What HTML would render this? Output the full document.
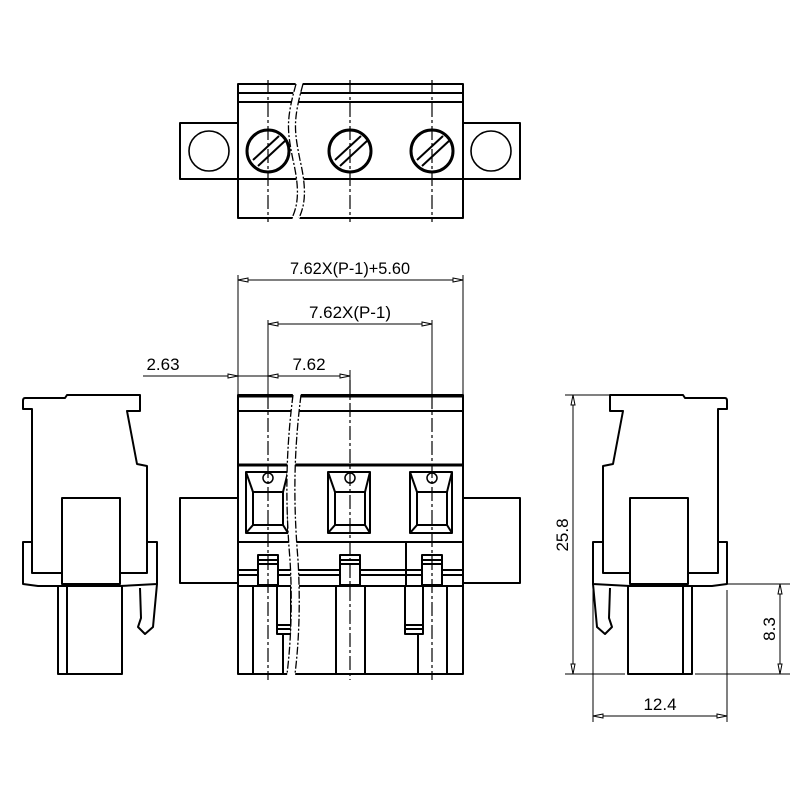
<!DOCTYPE html>
<html><head><meta charset="utf-8"><style>html,body{margin:0;padding:0;background:#fff}svg{display:block}</style></head>
<body>
<svg width="800" height="800" viewBox="0 0 800 800" xmlns="http://www.w3.org/2000/svg" font-family="Liberation Sans, sans-serif">
<g fill="none" stroke="#000" stroke-width="2" stroke-linejoin="round">
<!-- TOP VIEW -->
<rect x="180" y="123" width="58" height="56"/>
<rect x="463" y="123" width="57" height="56"/>
<circle cx="209" cy="151" r="20" stroke-width="1.6"/>
<circle cx="491" cy="151" r="20" stroke-width="1.6"/>
<rect x="238" y="84" width="225" height="134"/>
<line x1="238" y1="93" x2="463" y2="93"/>
<line x1="238" y1="102" x2="463" y2="102"/>
<line x1="238" y1="179" x2="463" y2="179"/>
<g stroke-width="3">
<circle cx="268" cy="151" r="21"/><circle cx="350" cy="151" r="21"/><circle cx="432" cy="151" r="21"/>
</g>
<g stroke-width="2">
<line x1="253" y1="160" x2="279" y2="136"/><line x1="258" y1="166" x2="286" y2="140"/>
<line x1="335" y1="160" x2="361" y2="136"/><line x1="340" y1="166" x2="368" y2="140"/>
<line x1="417" y1="160" x2="443" y2="136"/><line x1="422" y1="166" x2="450" y2="140"/>
</g>
<path d="M296,82 C286,120 287,130 293,160 C300,190 298,205 292,220 L299,220 C305,205 307,190 300,160 C294,130 293,120 303,82 Z" fill="#fff" stroke="none"/>
<g stroke-width="1.3" stroke-dasharray="8,2,2,2">
<path d="M296,84 C286,120 287,130 293,160 C300,190 298,205 292,218"/>
<path d="M303,84 C293,120 294,130 300,160 C307,190 305,205 299,218"/>
</g>
<g stroke-width="1.2" stroke-dasharray="14,3,3,3">
<line x1="268" y1="80" x2="268" y2="222"/><line x1="350" y1="80" x2="350" y2="222"/><line x1="432" y1="80" x2="432" y2="222"/>
</g>

<!-- FRONT VIEW -->
<rect x="180" y="498" width="58" height="85"/>
<rect x="463" y="498" width="57" height="85"/>
<rect x="238" y="395" width="225" height="279"/>
<line x1="238" y1="396" x2="463" y2="396" stroke-width="3"/>
<line x1="238" y1="411" x2="463" y2="411"/>
<line x1="238" y1="465" x2="463" y2="465" stroke-width="3"/>
<line x1="238" y1="542" x2="463" y2="542"/>
<line x1="238" y1="570" x2="463" y2="570"/>
<line x1="238" y1="575" x2="463" y2="575"/>
<line x1="238" y1="586" x2="463" y2="586"/>
<line x1="406" y1="542" x2="406" y2="586"/>
<g id="win">
<rect x="246" y="472" width="42" height="61"/>
<rect x="253" y="492" width="30" height="33"/>
<line x1="246" y1="472" x2="253" y2="492"/><line x1="288" y1="472" x2="283" y2="492"/>
<line x1="246" y1="533" x2="253" y2="525"/><line x1="288" y1="533" x2="283" y2="525"/>
<circle cx="268" cy="478" r="5" stroke-width="1.5"/>
<rect x="258" y="555" width="20" height="30" fill="#fff"/>
<line x1="258" y1="560" x2="278" y2="560"/><line x1="258" y1="564" x2="278" y2="564"/>
</g>
<use href="#win" x="82"/><use href="#win" x="164"/>
<line x1="253" y1="586" x2="253" y2="674"/>
<line x1="447" y1="586" x2="447" y2="674"/>
<line x1="336" y1="586" x2="336" y2="674"/>
<line x1="365" y1="586" x2="365" y2="674"/>
<rect x="277" y="586" width="14" height="48"/>
<line x1="277" y1="625" x2="291" y2="625"/><line x1="277" y1="629" x2="291" y2="629"/>
<line x1="283" y1="634" x2="283" y2="674"/>
<rect x="405" y="586" width="18" height="48"/>
<line x1="405" y1="625" x2="423" y2="625"/><line x1="405" y1="629" x2="423" y2="629"/>
<line x1="418" y1="634" x2="418" y2="674"/>
<path d="M293,393 C286,450 285,500 290,560 C293,610 290,650 287,676 L295,676 C298,650 301,610 298,560 C293,500 294,450 301,393 Z" fill="#fff" stroke="none"/>
<g stroke-width="1.3" stroke-dasharray="8,2,2,2">
<path d="M293,395 C286,450 285,500 290,560 C293,610 290,650 287,674"/>
<path d="M301,395 C294,450 293,500 298,560 C301,610 298,650 295,674"/>
</g>
<g stroke-width="1.2" stroke-dasharray="14,3,3,3">
<line x1="268" y1="395" x2="268" y2="680"/><line x1="350" y1="380" x2="350" y2="680"/><line x1="432" y1="395" x2="432" y2="680"/>
</g>

<!-- SIDE VIEW (right, mirrored to left) -->
<g id="side">
<path d="M610,395 L683,395 L685,398 L725,398 Q727,398 727,401 L727,409 L718,409 L718,573 L603,573 L603,466 L613,464 L623,411 L610,411 Z"/>
<rect x="630" y="498" width="58" height="86" fill="#fff"/>
<path d="M718,542 L727,542 L727,584 L712,586 L688,586"/>
<path d="M603,542 L593,542 L593,584 L630,586"/>
<path d="M593,584 L597,627 L605,634 L612,627 L609,618 L610,588"/>
<rect x="628" y="586" width="64" height="88"/>
<line x1="683" y1="586" x2="683" y2="674"/>
</g>
<use href="#side" transform="translate(750,0) scale(-1,1)"/>
</g>

<!-- DIMENSIONS -->
<g stroke="#000" stroke-width="1" fill="none">
<line x1="238" y1="275" x2="238" y2="395"/><line x1="463" y1="275" x2="463" y2="395"/>
<line x1="268" y1="320" x2="268" y2="395"/><line x1="432" y1="320" x2="432" y2="395"/>
<line x1="350" y1="370" x2="350" y2="395"/>
<line x1="238" y1="280" x2="463" y2="280"/>
<line x1="268" y1="324" x2="432" y2="324"/>
<line x1="143" y1="376" x2="350" y2="376"/>
<line x1="573" y1="395" x2="573" y2="674"/>
<line x1="565" y1="395" x2="610" y2="395"/>
<line x1="565" y1="674" x2="625" y2="674"/><line x1="695" y1="674" x2="790" y2="674"/>
<line x1="725" y1="584" x2="790" y2="584"/>
<line x1="780" y1="584" x2="780" y2="674"/>
<line x1="593" y1="590" x2="593" y2="722"/><line x1="727" y1="590" x2="727" y2="722"/>
<line x1="593" y1="716" x2="727" y2="716"/>
</g>
<g fill="#fff" stroke="#000" stroke-width="1">
<path d="M238,280 l10,-2 v4z"/><path d="M463,280 l-10,-2 v4z"/>
<path d="M268,324 l10,-2 v4z"/><path d="M432,324 l-10,-2 v4z"/>
<path d="M238,376 l-10,-2 v4z"/><path d="M268,376 l10,-2 v4z"/><path d="M350,376 l-10,-2 v4z"/>
<path d="M573,395 l-2,10 h4z"/><path d="M573,674 l-2,-10 h4z"/>
<path d="M780,584 l-2,10 h4z"/><path d="M780,674 l-2,-10 h4z"/>
<path d="M593,716 l10,-2 v4z"/><path d="M727,716 l-10,-2 v4z"/>
</g>
<g font-size="17" fill="#000" text-anchor="middle">
<text x="350" y="274" textLength="120" lengthAdjust="spacingAndGlyphs">7.62X(P-1)+5.60</text>
<text x="350" y="318" textLength="82" lengthAdjust="spacingAndGlyphs">7.62X(P-1)</text>
<text x="309" y="370">7.62</text>
<text x="163" y="370">2.63</text>
<text x="660" y="710">12.4</text>
<text transform="translate(568,535) rotate(-90)">25.8</text>
<text transform="translate(775,629) rotate(-90)">8.3</text>
</g>
</svg>
</body></html>
